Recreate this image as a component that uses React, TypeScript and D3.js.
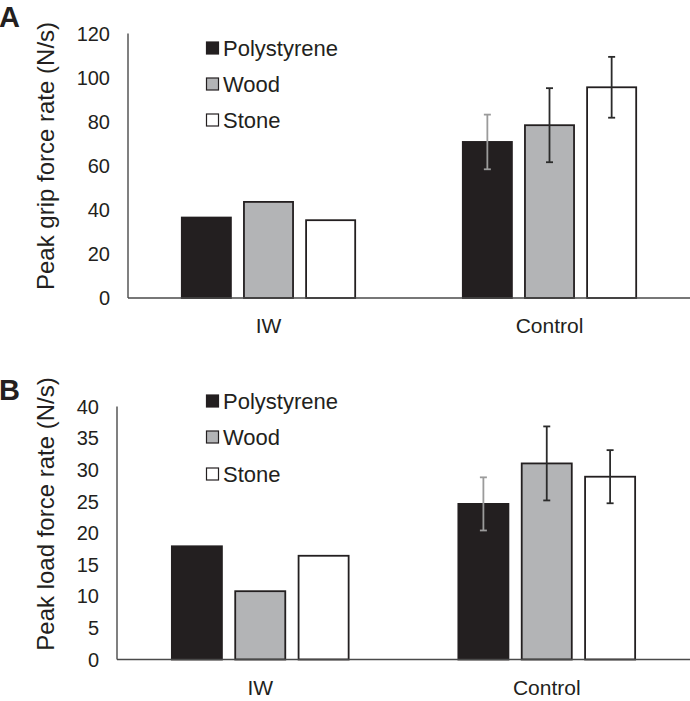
import * as d3 from "d3";

// Values
const groups = ["IW", "Control"];
const materials = ["Polystyrene", "Wood", "Stone"];

const gripIW = [36.5, 43.6, 35.3];
const gripControl = [70.8, 78.4, 95.6];
const gripControlErr = [12.4, 16.8, 13.8];
const gripTicks = [0, 20, 40, 60, 80, 100, 120];

const loadIW = [17.9, 10.8, 16.4];
const loadControl = [24.6, 31.0, 28.9];
const loadControlErr = [4.2, 5.85, 4.2];
const loadTicks = [0, 5, 10, 15, 20, 25, 30, 35, 40];

const fills = ["#231f20", "#b3b4b6", "#ffffff"];
const errColors = ["#9b9b9b", "#2b2b2b", "#2b2b2b"];
const FONT = "'Liberation Sans', Arial, sans-serif";

type PanelProps = {
  letter: string;
  title: string;
  iw: number[];
  control: number[];
  controlErr: number[];
  ticks: number[];
  x0: number;
  top: number;
  bottom: number;
  titleY: number;
  legendY: number[];
};

function Panel(p: PanelProps) {
  const x = d3.scaleBand().domain(groups).range([p.x0, 690]).padding(0);
  const bw = x.bandwidth();
  const groupW = bw * 0.617;
  const inner = d3
    .scaleBand()
    .domain(materials)
    .range([(bw - groupW) / 2, (bw + groupW) / 2])
    .paddingInner(0.21);
  const y = d3
    .scaleLinear()
    .domain([0, d3.max(p.ticks) as number])
    .range([p.bottom, p.top]);

  const rows = groups.map((g) => ({
    group: g,
    values: g === "IW" ? p.iw : p.control,
    errs: g === "IW" ? null : p.controlErr,
  }));

  return (
    <g>
      <text x={-1} y={p.top - 7} fontFamily={FONT} fontWeight="bold" fontSize={29} fill="#231f20">
        {p.letter}
      </text>
      <text
        transform={`translate(54,${p.titleY}) rotate(-90)`}
        textAnchor="middle"
        fontFamily={FONT}
        fontSize={24}
        fill="#231f20"
      >
        {p.title}
      </text>
      {p.ticks.map((t) => (
        <text
          key={t}
          x={p.x0 - 18}
          y={y(t)}
          dy="0.36em"
          textAnchor="end"
          fontFamily={FONT}
          fontSize={20}
          fill="#231f20"
        >
          {t}
        </text>
      ))}
      {rows.map((r) =>
        r.values.map((v, i) => {
          const bx = (x(r.group) as number) + (inner(materials[i]) as number);
          return (
            <rect
              key={r.group + i}
              x={bx}
              y={y(v)}
              width={inner.bandwidth()}
              height={y(0) - y(v)}
              fill={fills[i]}
              stroke="#231f20"
              strokeWidth={1.8}
            />
          );
        })
      )}
      {rows.map((r) =>
        r.errs
          ? r.values.map((v, i) => {
              const cx = (x(r.group) as number) + (inner(materials[i]) as number) + inner.bandwidth() / 2;
              const e = (r.errs as number[])[i];
              return (
                <g key={"e" + r.group + i} stroke={errColors[i]} strokeWidth={1.8}>
                  <line x1={cx} x2={cx} y1={y(v + e)} y2={y(v - e)} />
                  <line x1={cx - 3.5} x2={cx + 3.5} y1={y(v + e)} y2={y(v + e)} />
                  <line x1={cx - 3.5} x2={cx + 3.5} y1={y(v - e)} y2={y(v - e)} />
                </g>
              );
            })
          : null
      )}
      <line x1={p.x0} x2={p.x0} y1={p.top} y2={p.bottom} stroke="#4a4a4a" strokeWidth={1.4} />
      <line x1={p.x0} x2={690} y1={p.bottom} y2={p.bottom} stroke="#4a4a4a" strokeWidth={1.4} />
      {groups.map((g) => (
        <text
          key={g}
          x={(x(g) as number) + bw / 2}
          y={p.bottom + 35}
          textAnchor="middle"
          fontFamily={FONT}
          fontSize={21}
          fill="#231f20"
        >
          {g}
        </text>
      ))}
      {materials.map((m, i) => (
        <g key={m}>
          <rect
            x={206.5}
            y={p.legendY[i] - 6}
            width={12}
            height={12}
            fill={fills[i]}
            stroke="#231f20"
            strokeWidth={1.2}
          />
          <text x={223} y={p.legendY[i]} dy="0.36em" fontFamily={FONT} fontSize={22} fill="#231f20">
            {m}
          </text>
        </g>
      ))}
    </g>
  );
}

export default function App() {
  return (
    <svg
      width={690}
      height={701}
      style={{ position: "absolute", left: 0, top: 0, background: "#fff" }}
    >
      <Panel
        letter="A"
        title="Peak grip force rate (N/s)"
        iw={gripIW}
        control={gripControl}
        controlErr={gripControlErr}
        ticks={gripTicks}
        x0={128}
        top={33.5}
        bottom={298}
        titleY={156}
        legendY={[48, 84, 120]}
      />
      <Panel
        letter="B"
        title="Peak load force rate (N/s)"
        iw={loadIW}
        control={loadControl}
        controlErr={loadControlErr}
        ticks={loadTicks}
        x0={117}
        top={406.5}
        bottom={659.5}
        titleY={514}
        legendY={[401, 437, 474]}
      />
    </svg>
  );
}
